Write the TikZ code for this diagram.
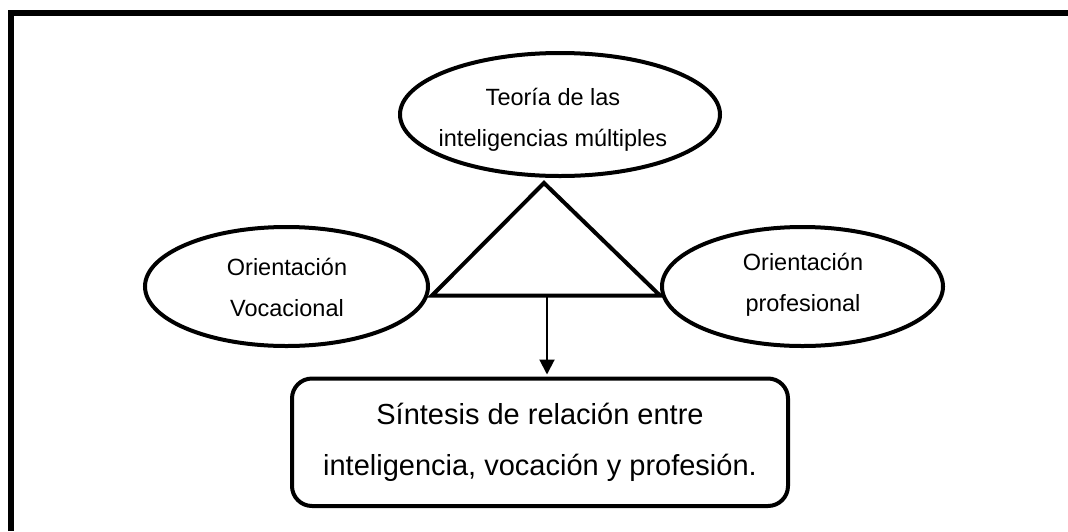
\documentclass[tikz,border=0pt]{standalone}
\usepackage{fontspec}
\setmainfont{Liberation Sans}
\usetikzlibrary{shapes.geometric,arrows.meta}
\begin{document}
\begin{tikzpicture}[x=1pt,y=-1pt,
  oval/.style={draw,ellipse,line width=4pt,inner sep=0pt},
  smalltxt/.style={align=center,inner sep=0pt,font=\fontsize{23.5}{41}\selectfont},
  bigtxt/.style={align=center,inner sep=0pt,font=\fontsize{29}{51}\selectfont},
  synbox/.style={draw,rectangle,rounded corners=20pt,line width=4pt,inner sep=0pt,minimum width=496pt,minimum height=127.5pt},
  frameline/.style={line width=6pt,line join=miter},
  triline/.style={line width=4pt,line join=miter},
  arrowline/.style={line width=2pt,-{Triangle[length=15pt,width=15pt]}}]
\useasboundingbox (0,0) rectangle (1068,531);
% outer frame (only top and left edges visible)
\coordinate (fbl) at (11,531);
\coordinate (ftl) at (11,13);
\coordinate (ftr) at (1068,13);
\draw[frameline] (fbl) -- (ftl) -- (ftr);
% ellipses
\node[oval,minimum width=320pt,minimum height=123pt] (teoria) at (560,114.5) {};
\node[smalltxt] (teoriatxt) at (553,120) {Teoría de las\\inteligencias múltiples};
\node[oval,minimum width=283pt,minimum height=119pt] (voc) at (286.5,286.5) {};
\node[smalltxt] (voctxt) at (287,287) {Orientación\\Vocacional};
\node[oval,minimum width=281pt,minimum height=119pt] (prof) at (802.5,286.5) {};
\node[smalltxt] (proftxt) at (803,285) {Orientación\\profesional};
% triangle
\coordinate (apex) at (544,183);
\coordinate (bl) at (432,295.5);
\coordinate (br) at (660,295.5);
\coordinate (basemid) at (547,295.5);
\draw[triline] (apex) -- (bl) -- (br) -- cycle;
% synthesis box
\node[synbox] (sint) at (540,442.25) {};
\node[bigtxt] (sinttxt) at (540,442.5) {Síntesis de relación entre\\inteligencia, vocación y profesión.};
\draw[arrowline] (basemid) -- ([yshift=2pt]basemid |- sint.north);
\end{tikzpicture}
\end{document}
